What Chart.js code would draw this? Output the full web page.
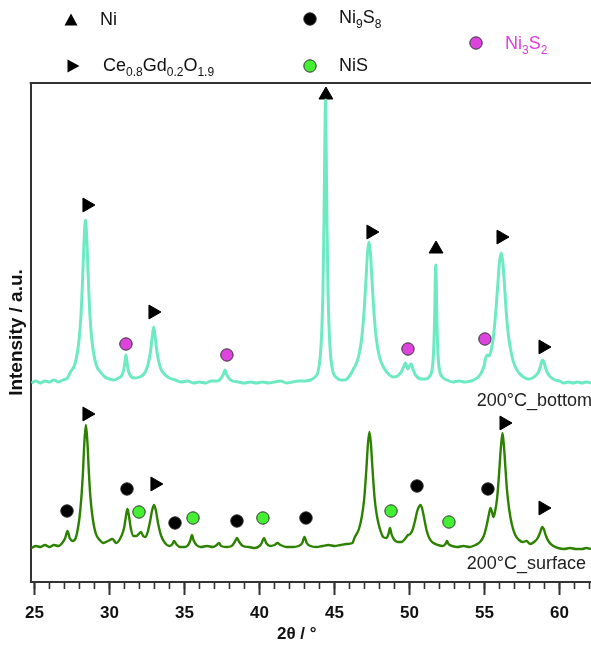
<!DOCTYPE html>
<html>
<head>
<meta charset="utf-8">
<script src="https://cdn.jsdelivr.net/npm/chart.js@4/dist/chart.umd.min.js"></script>
<style>
  html, body { margin: 0; padding: 0; background: #fff; }
  #wrap { position: relative; width: 591px; height: 646px; overflow: hidden; font-family: "Liberation Sans", Arial, sans-serif; color: #111; }
  #c { position: absolute; left: 0; top: 0; }
  .t { position: absolute; white-space: nowrap; line-height: 20px; font-size: 18px; }
  .t sub { font-size: 12px; vertical-align: -5px; line-height: 0; }
  .sym { position: absolute; }
</style>
</head>
<body>
<div id="wrap">
  <canvas id="c" width="591" height="646"></canvas>

  <svg class="sym" style="left:64px;top:13px" width="14" height="13"><polygon points="7,0.5 13.5,12.5 0.5,12.5" fill="#000"/></svg>
  <div class="t" style="left:100px;top:9px">Ni</div>

  <svg class="sym" style="left:67px;top:59px" width="13" height="14"><polygon points="0.5,0.5 12.5,7 0.5,13.5" fill="#000"/></svg>
  <div class="t" style="left:103px;top:55px">Ce<sub>0.8</sub>Gd<sub>0.2</sub>O<sub>1.9</sub></div>

  <svg class="sym" style="left:303px;top:12px" width="14" height="14"><circle cx="7" cy="7" r="6.2" fill="#000" stroke="#222" stroke-width="1"/></svg>
  <div class="t" style="left:339px;top:7px">Ni<sub>9</sub>S<sub>8</sub></div>

  <svg class="sym" style="left:303px;top:59px" width="14" height="14"><circle cx="7" cy="7" r="6.2" fill="#44ee33" stroke="#333" stroke-width="1"/></svg>
  <div class="t" style="left:339px;top:55px">NiS</div>

  <svg class="sym" style="left:469px;top:36px" width="14" height="14"><circle cx="7" cy="7" r="6.2" fill="#dd44dd" stroke="#333" stroke-width="1"/></svg>
  <div class="t" style="left:505px;top:33px;color:#e040e0">Ni<sub>3</sub>S<sub>2</sub></div>

  <div class="t" style="right:-1px;top:390px;color:#222">200°C_bottom</div>
  <div class="t" style="right:5px;top:553px;color:#222">200°C_surface</div>

  <div class="t" style="left:277px;top:624px;font-weight:bold;font-size:17px">2θ / °</div>
</div>

<script>
// ---- data (x = 2θ in degrees, y = intensity, arbitrary units) ----
const bottomPattern = [
  [24.8,199],[25.1,201],[25.4,199],[25.7,201],[26.0,200],[26.3,202],[26.6,200],[26.9,202],[27.2,204],
  [27.4,210],[27.7,218],[27.95,239],[28.1,266],[28.2,299],[28.3,339],[28.4,362],[28.5,339],[28.6,299],[28.7,266],
  [28.85,239],[29.1,218],[29.4,210],[29.7,205],[30.0,203],[30.3,202],[30.6,204],
  [30.8,206],[30.95,212],[31.03,220],[31.1,227],[31.17,220],[31.25,212],[31.4,206],[31.7,204],
  [32.0,205],[32.3,208],[32.5,214],[32.65,223],[32.75,232],[32.85,245],[32.95,255],[33.05,245],[33.15,232],
  [33.25,223],[33.4,214],[33.65,208],[34.0,204],[34.4,202],[34.8,200],[35.2,201],[35.6,199],[36.0,200],
  [36.4,199],[36.8,201],[37.2,201],[37.45,204],[37.6,208],[37.7,212],[37.8,208],[37.95,204],[38.2,201],
  [38.6,200],[39.0,199],[39.4,200],[39.8,199],[40.2,200],[40.6,199],[41.0,200],[41.4,201],[41.8,199],
  [42.2,200],[42.6,201],[43.0,201],[43.4,202],[43.7,205],
  [43.9,210],[44.05,225],[44.15,250],[44.23,290],[44.3,360],[44.35,430],[44.4,482],[44.45,430],[44.5,360],
  [44.57,290],[44.65,250],[44.75,225],[44.9,210],[45.1,205],[45.4,202],[45.7,202],[46.0,206],
  [46.3,214],[46.6,225],[46.8,242],[46.95,266],[47.1,302],[47.2,329],[47.3,340],[47.4,329],[47.5,302],
  [47.65,266],[47.8,242],[48.0,225],[48.3,214],[48.6,208],[48.9,205],[49.2,206],
  [49.45,210],[49.6,215],[49.73,219],[49.9,213],[50.0,216],[50.1,218],[50.25,212],[50.45,206],[50.8,203],
  [51.1,203],[51.35,206],
  [51.5,212],[51.6,228],[51.67,260],[51.75,317],[51.83,260],[51.9,228],[52.0,212],[52.2,205],[52.5,202],
  [52.9,200],[53.3,201],[53.7,200],[54.1,201],[54.4,203],[54.7,207],[54.95,215],
  [55.1,225],[55.2,227],[55.3,226],[55.45,232],[55.6,246],[55.75,270],[55.9,300],[56.0,320],[56.12,329],
  [56.22,320],[56.32,300],[56.45,270],[56.6,246],[56.8,228],[57.0,217],[57.3,209],[57.6,205],[57.9,203],
  [58.2,204],[58.45,207],
  [58.6,210],[58.72,215],[58.8,220],[58.88,222],[58.96,220],[59.05,215],[59.2,209],[59.4,205],[59.7,202],
  [60.0,201],[60.3,199],[60.6,200],[60.9,199],[61.2,200],[61.5,199],[61.8,200],[62.1,199]
];
const surfacePattern = [
  [24.8,34],[25.1,36],[25.4,35],[25.7,37],[26.0,35],[26.3,37],[26.6,36],[26.85,39],[27.05,44],[27.2,51],
  [27.35,44],[27.55,41],[27.75,44],
  [27.85,50],[28.0,64],[28.13,85],[28.23,109],[28.33,140],[28.43,157],[28.53,140],[28.63,109],[28.73,85],
  [28.88,64],[29.1,48],[29.35,42],[29.6,39],[29.9,41],[30.2,43],[30.45,39],[30.7,43],[30.9,50],
  [31.0,56],[31.1,66],[31.2,73],[31.3,66],[31.42,54],[31.6,46],[31.8,46],[31.95,48],[32.1,50],[32.25,46],
  [32.4,45],[32.55,50],[32.7,60],[32.85,72],[32.97,77],[33.1,71],[33.25,58],[33.45,46],[33.7,39],[34.0,36],
  [34.2,38],[34.3,41],[34.45,38],[34.7,35],[35.0,35],[35.25,37],[35.4,42],[35.5,47],[35.6,42],[35.8,37],
  [36.1,35],[36.5,36],[36.9,35],[37.15,37],[37.3,39],[37.45,36],[37.8,35],[38.15,36],[38.35,40],[38.5,44],
  [38.65,40],[38.9,36],[39.3,35],[39.7,34],[40.0,36],[40.15,39],[40.3,44],[40.45,39],[40.7,36],[41.0,37],
  [41.2,39],[41.4,37],[41.8,35],[42.2,35],[42.6,36],[42.85,39],[43.0,45],[43.15,39],[43.4,36],[43.8,35],
  [44.2,36],[44.6,37],[45.0,36],[45.4,37],[45.8,38],[46.2,39],
  [46.33,44],[46.63,53],[46.83,66],[46.98,83],[47.13,114],[47.23,138],[47.33,150],[47.43,138],[47.53,114],
  [47.68,83],[47.83,66],[48.03,53],[48.25,45],[48.45,44],[48.6,48],[48.7,54],[48.8,48],[48.95,43],[49.2,40],
  [49.45,40],[49.7,43],[49.9,47],[50.05,48],[50.2,52],[50.35,60],[50.5,70],[50.62,75],[50.73,77],[50.85,73],
  [51.0,62],[51.15,51],[51.35,43],[51.6,39],[51.9,37],[52.2,36],[52.4,38],[52.5,41],[52.6,38],[52.85,36],
  [53.2,35],[53.6,36],[54.0,35],[54.4,37],[54.7,40],[54.95,46],[55.15,57],[55.3,68],[55.4,74],[55.5,70],
  [55.6,65],[55.7,70],[55.85,85],[55.97,108],[56.08,132],[56.2,149],[56.3,135],[56.4,113],[56.5,92],
  [56.65,72],[56.85,56],[57.05,47],[57.3,42],[57.55,40],[57.8,41],[58.05,38],[58.3,40],[58.55,44],[58.72,50],
  [58.85,55],[58.95,53],[59.1,46],[59.3,40],[59.6,36],[59.9,34],[60.3,33],[60.7,34],[61.1,33],[61.5,33],
  [61.8,34],[62.1,33]
];
// phase markers placed above the peaks
const ceriaMarks = [[28.5,377],[32.9,270],[47.43,350],[56.1,345],[58.9,235],[28.5,168],[33.03,98],[56.3,159],[58.9,74]];
const niMarks    = [[44.43,487],[51.77,333]];
const ni9s8Marks = [[27.17,71],[31.17,93],[34.37,59],[38.5,61],[43.1,64],[50.5,96],[55.23,93]];
const nisMarks   = [[31.97,70],[35.57,64],[40.23,64],[48.77,71],[52.63,60]];
const ni3s2Marks = [[31.1,238],[37.83,227],[49.9,233],[55.03,243]];
const xMajorTicks = [25,30,35,40,45,50,55,60];
const xMinorTicks = [25,26,27,28,29,30,31,32,33,34,35,36,37,38,39,40,41,42,43,44,45,46,47,48,49,50,51,52,53,54,55,56,57,58,59,60,61,62];

const pts = a => a.map(p => ({x: p[0], y: p[1]}));

const frameAndMinor = {
  id: 'frameAndMinor',
  afterDraw(chart) {
    const {ctx, chartArea} = chart;
    const xs = chart.scales.x;
    ctx.save();
    ctx.strokeStyle = '#333';
    ctx.lineWidth = 2;
    ctx.beginPath();
    ctx.moveTo(chartArea.left - 1, chartArea.top);
    ctx.lineTo(chartArea.right + 2, chartArea.top);
    ctx.stroke();
    ctx.lineWidth = 1.6;
    ctx.beginPath();
    xMinorTicks.forEach(v => {
      const x = xs.getPixelForValue(v);
      ctx.moveTo(x, chartArea.bottom);
      ctx.lineTo(x, chartArea.bottom + 7);
    });
    ctx.stroke();
    ctx.restore();
  }
};

const lineDs = (data, color, w) => ({
  type: 'line', data: pts(data), borderColor: color, borderWidth: w,
  pointRadius: 0, cubicInterpolationMode: 'monotone', fill: false, clip: false
});
const markDs = (data, style, rot, fill, stroke, r) => ({
  type: 'scatter', data: pts(data), pointStyle: style, rotation: rot,
  pointRadius: r, pointHoverRadius: r, backgroundColor: fill, borderColor: stroke,
  borderWidth: 1, clip: false
});

new Chart(document.getElementById('c'), {
  data: {
    datasets: [
      lineDs(bottomPattern, '#6eeac2', 3),
      lineDs(surfacePattern, '#2c8200', 2.4),
      markDs(ceriaMarks, 'triangle', 90, '#000', '#000', 8),
      markDs(niMarks, 'triangle', 0, '#000', '#000', 8),
      markDs(ni9s8Marks, 'circle', 0, '#000', '#222', 6.2),
      markDs(nisMarks, 'circle', 0, '#44ee33', '#333', 6.2),
      markDs(ni3s2Marks, 'circle', 0, '#dd44dd', '#333', 6.2)
    ]
  },
  options: {
    responsive: false,
    animation: false,
    events: [],
    layout: { autoPadding: false, padding: { top: 83, right: 0, left: 0, bottom: 0 } },
    plugins: { legend: { display: false }, tooltip: { enabled: false } },
    scales: {
      x: {
        type: 'linear', min: 24.75, max: 62.1,
        afterBuildTicks: s => { s.ticks = xMajorTicks.map(v => ({value: v})); },
        afterFit: s => { s.height = 64; s.paddingLeft = 0; s.paddingRight = 0; },
        grid: { display: true, drawOnChartArea: false, drawTicks: true, tickLength: 13, tickWidth: 2, tickColor: '#333' },
        border: { display: true, color: '#333', width: 2 },
        ticks: { color: '#111', padding: 8, maxRotation: 0, autoSkip: false,
                 font: { family: '"Liberation Sans", Arial, sans-serif', size: 17, weight: 'bold' } }
      },
      y: {
        type: 'linear', min: 0, max: 499,
        afterFit: s => { s.width = 30.7; s.paddingTop = 0; s.paddingBottom = 0; },
        grid: { display: false },
        border: { display: true, color: '#333', width: 2 },
        ticks: { display: false },
        title: { display: true, text: 'Intensity / a.u.', color: '#111', padding: { top: 5, bottom: 0 },
                 font: { family: '"Liberation Sans", Arial, sans-serif', size: 19, weight: 'bold' } }
      }
    }
  },
  plugins: [frameAndMinor]
});
</script>
</body>
</html>
